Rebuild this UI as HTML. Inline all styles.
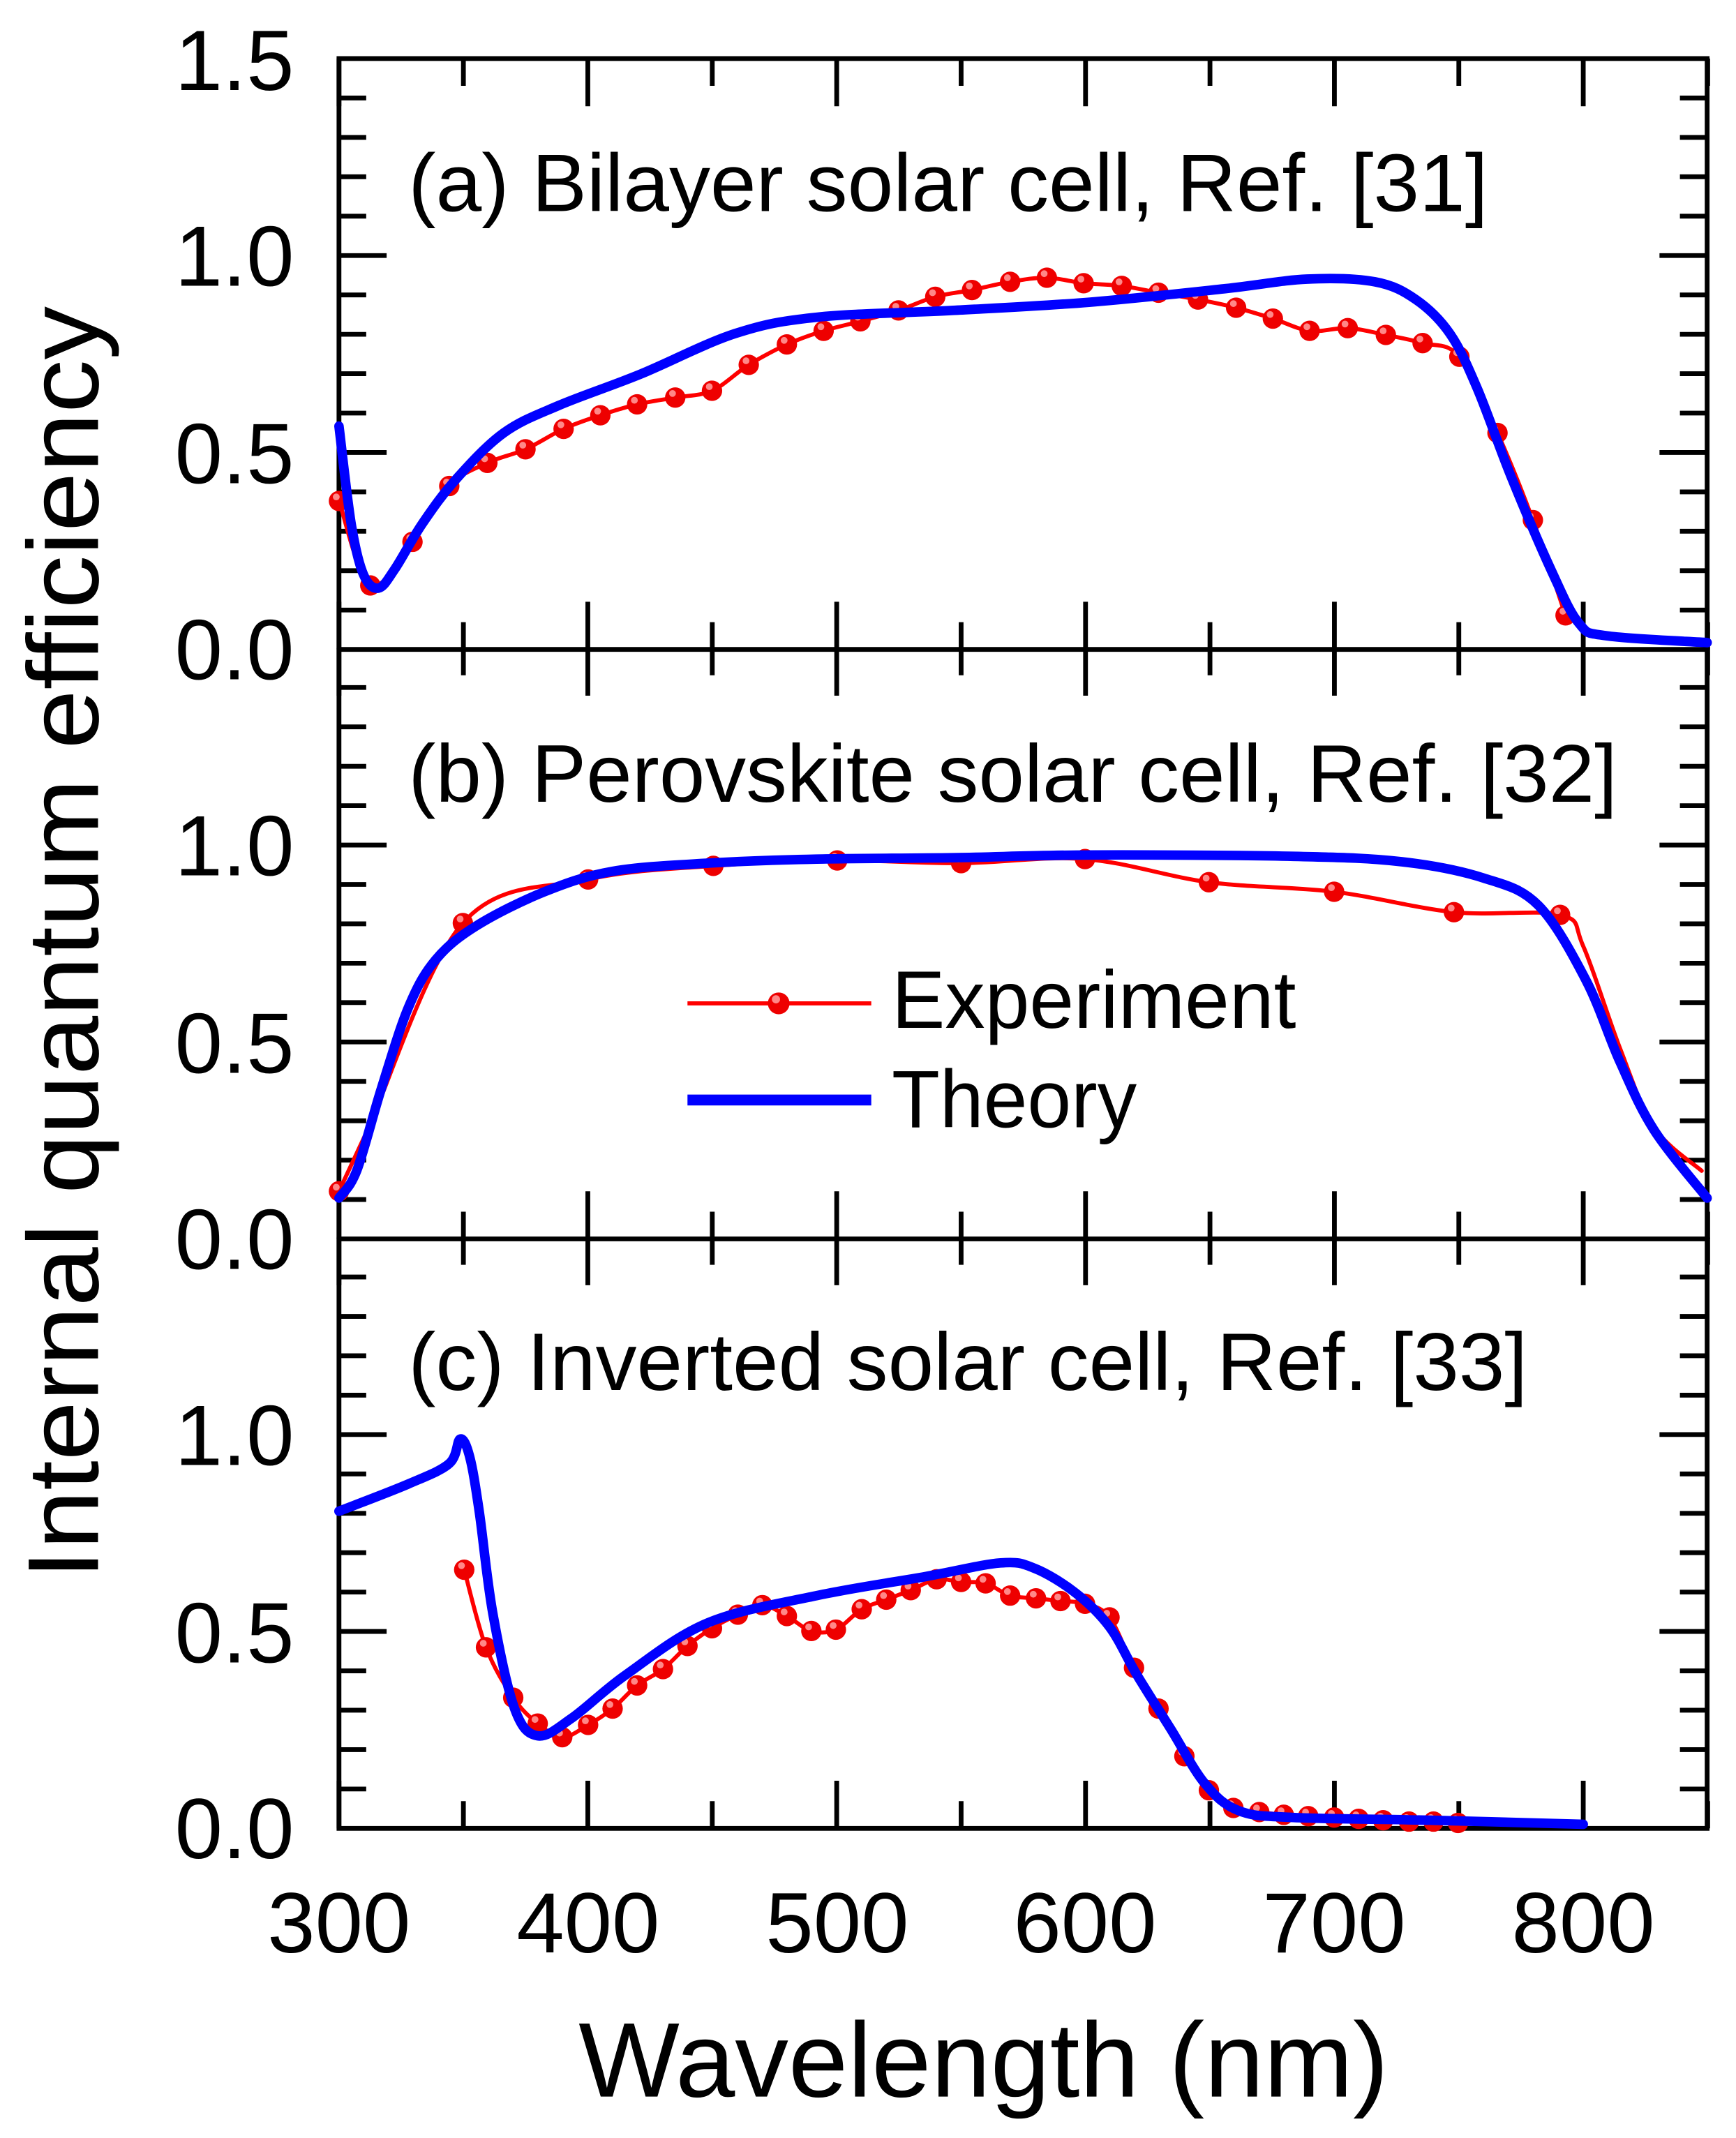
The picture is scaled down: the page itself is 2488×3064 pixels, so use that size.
<!DOCTYPE html>
<html><head><meta charset="utf-8"><style>html,body{margin:0;padding:0;background:#fff}svg{display:block}</style></head>
<body>
<svg id="s" xmlns="http://www.w3.org/2000/svg" width="2488" height="3064" viewBox="0 0 1275.2 1570.4" font-family="Liberation Sans, sans-serif">
<rect width="1275.2" height="1570.4" fill="#fff"/>
<g id="ticks" stroke="#000" stroke-width="3.5"></g>
<g fill="none" stroke="#000" stroke-width="3.5">
<rect x="249" y="43" width="1005" height="1300"/>
<line x1="249" y1="477" x2="1254" y2="477"/>
<line x1="249" y1="910" x2="1254" y2="910"/>
</g>
<g id="data"></g>
<g font-size="63" text-anchor="end">
<text x="216" y="66">1.5</text><text x="216" y="210">1.0</text><text x="216" y="355">0.5</text><text x="216" y="499">0.0</text>
<text x="216" y="643">1.0</text><text x="216" y="788">0.5</text><text x="216" y="932">0.0</text>
<text x="216" y="1076">1.0</text><text x="216" y="1221">0.5</text><text x="216" y="1365">0.0</text>
</g>
<g font-size="63" text-anchor="middle">
<text x="249" y="1434">300</text><text x="432" y="1434">400</text><text x="615" y="1434">500</text>
<text x="797" y="1434">600</text><text x="980" y="1434">700</text><text x="1163" y="1434">800</text>
</g>
<text x="425" y="1540" font-size="78" textLength="595" lengthAdjust="spacingAndGlyphs">Wavelength (nm)</text>
<text transform="translate(72,1160) rotate(-90)" font-size="74" textLength="935" lengthAdjust="spacingAndGlyphs">Internal quantum efficiency</text>
<g font-size="60">
<text x="300" y="155" textLength="793" lengthAdjust="spacingAndGlyphs">(a) Bilayer solar cell, Ref. [31]</text>
<text x="300" y="589" textLength="888" lengthAdjust="spacingAndGlyphs">(b) Perovskite solar cell, Ref. [32]</text>
<text x="300" y="1021" textLength="822" lengthAdjust="spacingAndGlyphs">(c) Inverted solar cell, Ref. [33]</text>
<text x="655" y="755" textLength="297" lengthAdjust="spacingAndGlyphs">Experiment</text>
<text x="655" y="828" textLength="180" lengthAdjust="spacingAndGlyphs">Theory</text>
</g>
<line x1="505" y1="737" x2="640" y2="737" stroke="#f00" stroke-width="3"/>
<circle cx="572" cy="737" r="8" fill="#e00"/><circle cx="570" cy="734" r="3" fill="#f88"/>
<line x1="505" y1="808" x2="640" y2="808" stroke="#00f" stroke-width="8"/>
</svg>
<script>
const NS="http://www.w3.org/2000/svg";
const tk=document.getElementById('ticks');
function L(x1,y1,x2,y2){const l=document.createElementNS(NS,'line');l.setAttribute('x1',x1);l.setAttribute('y1',y1);l.setAttribute('x2',x2);l.setAttribute('y2',y2);tk.appendChild(l);}
const bots=[477,910,1343];
for(const b of bots){const top=b-434;
 for(let nm=300;nm<=850;nm+=50){const x=249+(nm-300)*1.828;const len=(nm%100==0)?35:20;L(x,b,x,b-len);L(x,top,x,top+len);}
 for(let i=1;i<15;i++){const y=b-i*28.93;const len=(i%5==0)?35:20;L(249,y,249+len,y);L(1254,y,1254-len,y);}
}
const dg=document.getElementById('data');
function smooth(p){let d='M'+p[0][0]+','+p[0][1];for(let i=0;i<p.length-1;i++){const p0=p[i-1]||p[i],p1=p[i],p2=p[i+1],p3=p[i+2]||p2;const t=6;d+=` C${p1[0]+(p2[0]-p0[0])/t},${p1[1]+(p2[1]-p0[1])/t} ${p2[0]-(p3[0]-p1[0])/t},${p2[1]-(p3[1]-p1[1])/t} ${p2[0]},${p2[1]}`;}return d;}
function path(pts,col,w){const p=document.createElementNS(NS,'path');p.setAttribute('d',smooth(pts));p.setAttribute('fill','none');p.setAttribute('stroke',col);p.setAttribute('stroke-width',w);p.setAttribute('stroke-linejoin','round');p.setAttribute('stroke-linecap','round');dg.appendChild(p);}
function marks(pts){for(const [x,y] of pts){const c=document.createElementNS(NS,'circle');c.setAttribute('cx',x);c.setAttribute('cy',y);c.setAttribute('r',7.5);c.setAttribute('fill','#e00');dg.appendChild(c);const h=document.createElementNS(NS,'circle');h.setAttribute('cx',x-2);h.setAttribute('cy',y-3);h.setAttribute('r',2.5);h.setAttribute('fill','#f88');dg.appendChild(h);}}
const ea=[[249,368],[272,430],[303,398],[330,357],[358,340],[386,330],[414,315],[441,305],[468,297],[496,292],[523,287],[550,268],[578,253],[605,243],[632,236],[660,228],[687,218],[714,213],[742,207],[769,204],[796,208],[824,210],[851,215],[880,220],[908,226],[935,234],[962,243],[990,241],[1018,246],[1045,252],[1072,262],[1100,318],[1126,382],[1150,452]];
const ta=[[249,313],[258,385],[267,422],[278,432],[290,418],[310,385],[335,352],[370,318],[410,298],[470,275],[540,245],[600,233],[700,228],[800,222],[900,212],[960,205],[1010,207],[1040,220],[1065,245],[1085,285],[1110,350],[1140,420],[1160,458],[1180,467],[1254,472]];
const eb=[[249,875],[270,830],[340,678],[432,646],[524,636],[615,632],[706,634],[797,631],[888,648],[980,655],[1068,670],[1146,672],[1163,695],[1190,770],[1215,828],[1250,860]];
const tb=[[249,880],[262,860],[280,800],[300,740],[320,705],[350,680],[400,655],[450,640],[520,634],[600,631],[700,630],[800,628],[950,629],[1030,633],[1090,645],[1130,665],[1165,720],[1190,780],[1215,830],[1254,880]];
const ec=[[341,1153],[357,1210],[377,1247],[395,1266],[413,1276],[432,1267],[450,1255],[468,1238],[487,1226],[505,1209],[523,1196],[542,1186],[560,1179],[578,1187],[596,1198],[614,1197],[633,1182],[651,1175],[669,1168],[688,1160],[706,1162],[724,1163],[742,1172],[761,1174],[779,1176],[797,1178],[815,1188],[833,1225],[851,1255],[870,1290],[888,1315],[906,1328],[925,1331],[943,1333],[961,1334],[980,1335],[998,1336],[1016,1337],[1035,1338],[1053,1338],[1071,1339]];
const tc=[[249,1110],[300,1090],[330,1075],[338,1057],[345,1070],[352,1110],[362,1185],[378,1255],[395,1275],[420,1262],[460,1230],[520,1192],[600,1172],[680,1158],[735,1148],[760,1152],[790,1170],[815,1195],[835,1230],[860,1270],[885,1310],[910,1330],[950,1335],[1050,1337],[1163,1340]];
path(ea,'#f00',3);marks(ea);path(ta,'#00f',7);
path(eb,'#f00',3);marks(eb.filter((p,i)=>i<12&&i!=1));path(tb,'#00f',7);
path(ec,'#f00',3);marks(ec);path(tc,'#00f',7);
</script>
</body></html>
